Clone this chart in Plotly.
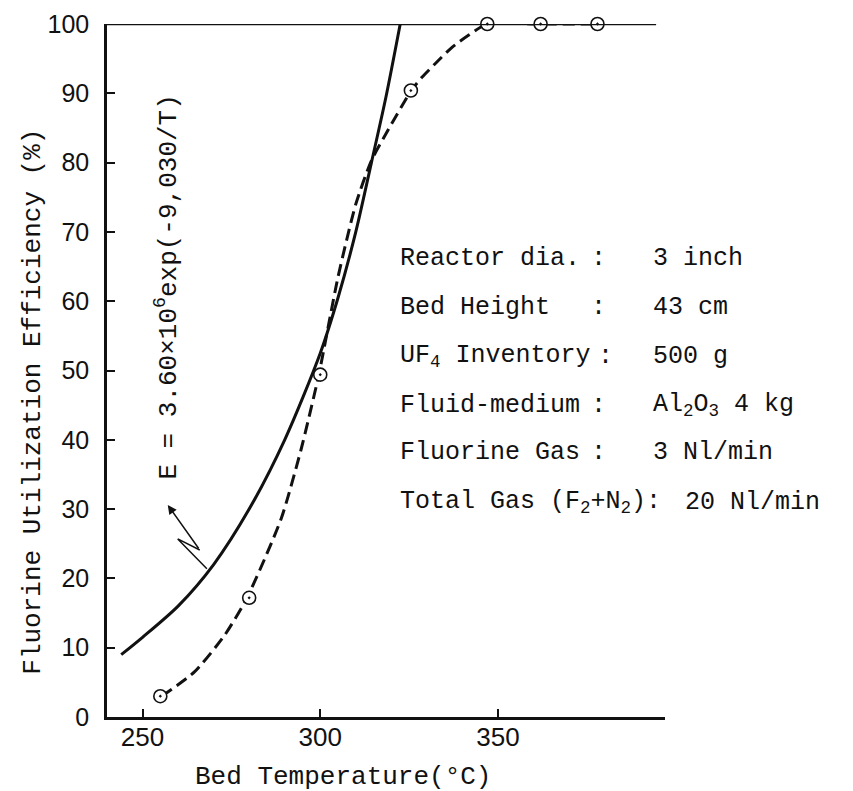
import plotly.graph_objects as go

# ---- data ----
# solid curve: E = 3.60x10^6 exp(-9,030/T)
solid_T = [244, 250, 260, 270, 280, 290, 300, 305, 310, 314.4, 318.5, 322.5]
solid_E = [9, 11.5, 16, 22, 30, 40, 52.5, 60.5, 70, 80, 89.5, 100]

# dashed (experimental) curve
dash_T = [255.4, 264.6, 273.1, 279.4, 289, 294.6, 299.6, 305, 310, 314.4, 319.2,
          325.6, 328.6, 332.4, 337, 341.8, 347, 362, 378]
dash_E = [3, 6.5, 11.8, 17.2, 28.6, 38.6, 49.4, 63.5, 74, 80.3, 84.8,
          90.4, 92.3, 94.3, 96.6, 98.4, 100, 100, 100]

# measured points
meas_T = [255, 280, 300, 325.5, 347, 362, 378]
meas_E = [3, 17.2, 49.4, 90.4, 100, 100, 100]

x_ticks = [250, 300, 350]
y_ticks = [0, 10, 20, 30, 40, 50, 60, 70, 80, 90, 100]

cond_labels = ["Reactor dia.", "Bed Height", "UF<sub>4</sub> Inventory", "Fluid-medium",
               "Fluorine Gas", "Total Gas (F<sub>2</sub>+N<sub>2</sub>):"]
cond_values = ["3 inch", "43 cm", "500 g", "Al<sub>2</sub>O<sub>3</sub> 4 kg",
               "3 Nl/min", "20 Nl/min"]

MONO = "Liberation Mono"
SANS = "Liberation Sans"
INK = "#111111"

fig = go.Figure()

fig.add_trace(go.Scatter(x=solid_T, y=solid_E, mode="lines",
                         line=dict(color=INK, width=3, shape="spline", smoothing=0.8),
                         hoverinfo="skip", showlegend=False))
fig.add_trace(go.Scatter(x=dash_T, y=dash_E, mode="lines",
                         line=dict(color=INK, width=3, dash="12px,6px", shape="spline", smoothing=0.6),
                         hoverinfo="skip", showlegend=False, cliponaxis=False))
fig.add_trace(go.Scatter(x=meas_T, y=meas_E, mode="markers",
                         marker=dict(symbol="circle-dot", size=13, color="white",
                                     line=dict(color=INK, width=1.6)),
                         showlegend=False, cliponaxis=False))

# top frame line
fig.add_shape(type="line", x0=240, x1=394.5, y0=100, y1=100, xref="x", yref="y",
              line=dict(color=INK, width=2.5))

# leader (lightning) line to the formula
fig.add_shape(type="path", xref="x", yref="y",
              path="M 266.1 24.1 L 259.9 25.7 L 268.1 21.4",
              line=dict(color=INK, width=1.5))
fig.add_annotation(x=257.1, y=30.6, ax=266.1, ay=24.1, axref="x", ayref="y",
                   xref="x", yref="y", text="", showarrow=True,
                   arrowhead=2, arrowsize=1.2, arrowwidth=1.5, arrowcolor=INK)

annos = []
# formula, rotated
annos.append(dict(text="E = 3.60×10<sup>6</sup>exp(-9,030/T)", xref="paper", yref="paper",
                  x=0.108, y=0.62, textangle=-90, showarrow=False,
                  font=dict(family=MONO, size=26, color=INK), xanchor="center", yanchor="middle"))

# conditions block
row_y = [0.661, 0.5905, 0.520, 0.4497, 0.381, 0.310]
colon_x = [0.880, 0.880, 0.8925, 0.880, 0.880]
for i, (lab, val) in enumerate(zip(cond_labels, cond_values)):
    annos.append(dict(text=lab, xref="paper", yref="paper", x=0.5215, y=row_y[i],
                      xanchor="left", yanchor="middle", showarrow=False,
                      font=dict(family=MONO, size=25, color=INK)))
    if i < 5:
        annos.append(dict(text=":", xref="paper", yref="paper", x=colon_x[i],
                          y=row_y[i], xanchor="center", yanchor="middle", showarrow=False,
                          font=dict(family=MONO, size=25, color=INK)))
    annos.append(dict(text=val, xref="paper", yref="paper",
                      x=0.975 if i < 5 else 1.032, y=row_y[i],
                      xanchor="left", yanchor="middle", showarrow=False,
                      font=dict(family=MONO, size=25, color=INK)))

# axis titles
annos.append(dict(text="Fluorine Utilization Efficiency (%)", xref="paper", yref="paper",
                  x=-0.1326, y=0.455, textangle=-90, showarrow=False,
                  xanchor="center", yanchor="middle",
                  font=dict(family=MONO, size=26, color=INK)))
annos.append(dict(text="Bed Temperature(°C)", xref="paper", yref="paper",
                  x=0.423, y=-0.086, showarrow=False, xanchor="center", yanchor="middle",
                  font=dict(family=MONO, size=26, color=INK)))

fig.update_layout(
    width=853, height=791,
    margin=dict(l=99, r=196, t=16, b=82, autoexpand=False),
    paper_bgcolor="white", plot_bgcolor="white",
    annotations=list(fig.layout.annotations) + annos,
    xaxis=dict(range=[240, 397], tickmode="array", tickvals=x_ticks,
               ticktext=[str(v) for v in x_ticks], ticks="inside", ticklen=8, tickwidth=2,
               tickcolor=INK, showline=True, linecolor=INK, linewidth=2.5,
               showgrid=False, zeroline=False, ticklabelstandoff=-5, automargin=False,
               tickfont=dict(family=SANS, size=26, color=INK)),
    yaxis=dict(range=[0, 100], tickmode="array", tickvals=y_ticks,
               ticktext=[str(v) for v in y_ticks], ticks="inside", ticklen=8, tickwidth=2,
               tickcolor=INK, showline=True, linecolor=INK, linewidth=2.5,
               showgrid=False, zeroline=False, ticklabelstandoff=10, automargin=False,
               ticklabeloverflow="allow",
               tickfont=dict(family=SANS, size=25, color=INK)),
)

fig.write_html("out.html")
